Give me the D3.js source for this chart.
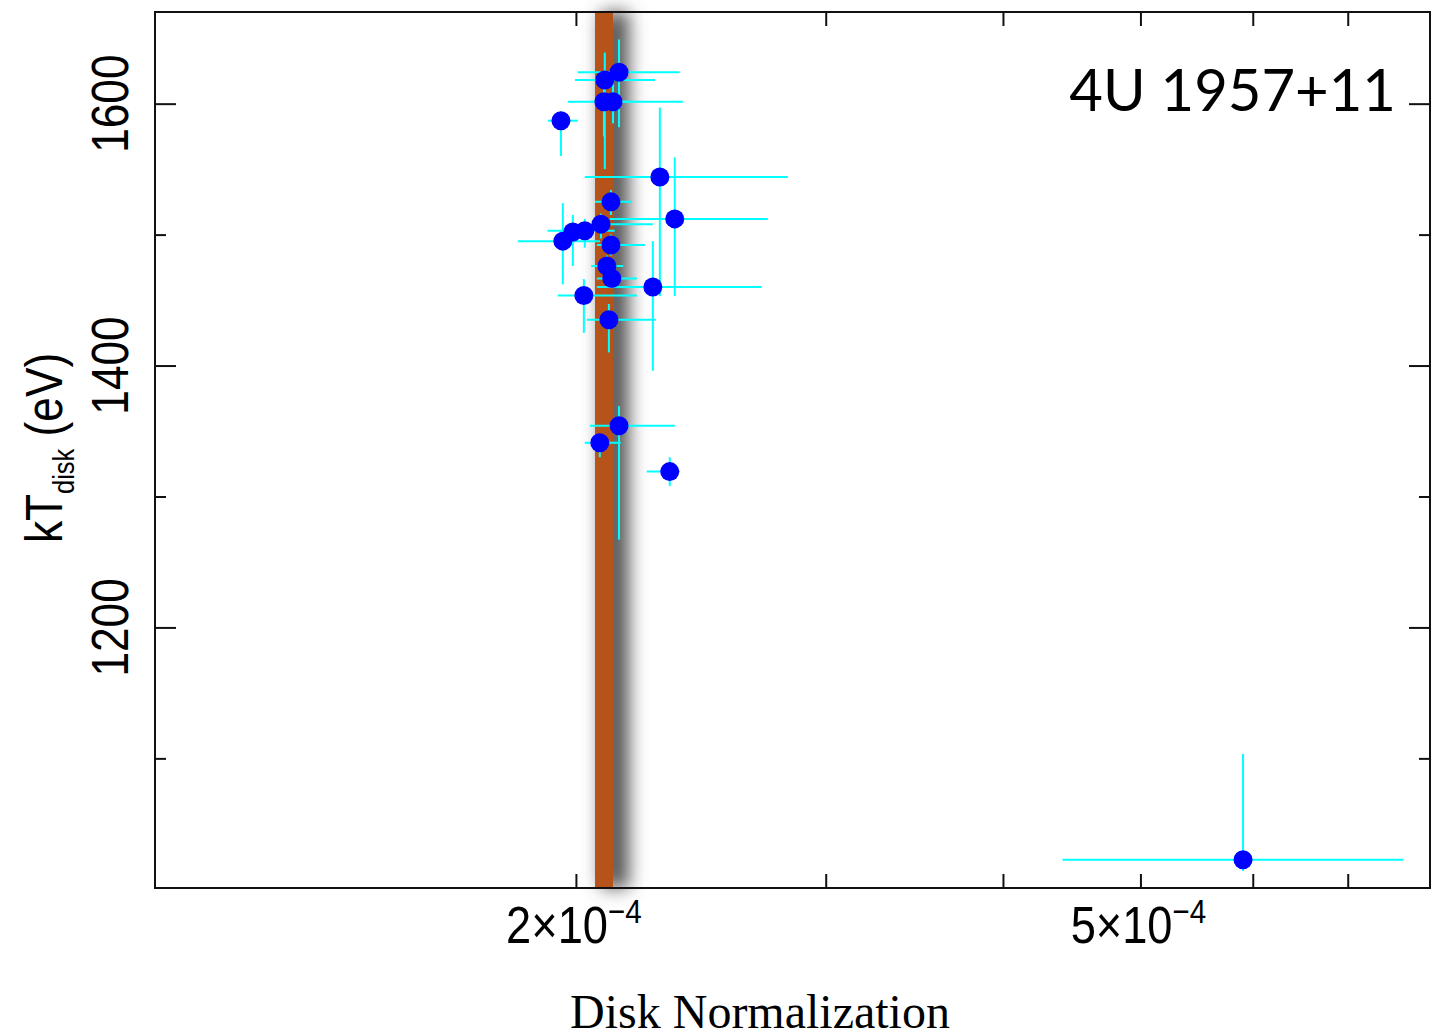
<!DOCTYPE html>
<html>
<head>
<meta charset="utf-8">
<script src="https://cdn.jsdelivr.net/npm/d3@7"></script>
<style>
  body { margin: 0; background: #fff; }
  svg { display: block; }
</style>
</head>
<body>
<div id="chart"></div>
<script>
// disk normalization (units of 1e-4) with low / high error ends
const normVal = [2.145, 2.096, 2.093, 2.124, 1.952, 2.292, 2.117, 2.348, 2.083, 2.029, 1.990, 1.958, 2.117, 2.103, 2.120, 2.266, 2.026, 2.110, 2.145, 2.079, 2.329, 5.906];
const normLo  = [2.006, 1.997, 1.974, 2.050, 1.911, 2.029, 2.063, 2.113, 2.063, 1.910, 1.950, 1.820, 2.069, 2.050, 2.069, 2.069, 1.942, 2.036, 2.046, 2.029, 2.244, 4.406];
const normHi  = [2.367, 2.274, 2.190, 2.379, 2.006, 2.821, 2.190, 2.731, 2.266, 2.130, 2.030, 2.080, 2.237, 2.160, 2.208, 2.704, 2.208, 2.277, 2.348, 2.151, 2.367, 7.660];
// disk temperature (eV) with low / high error ends
const ktVal = [1624, 1618, 1601.5, 1601.5, 1587, 1544, 1525, 1512, 1508, 1503, 1502, 1495, 1492, 1476, 1466.5, 1460, 1453.5, 1435, 1354, 1341, 1319, 1022.6];
const ktLo  = [1582, 1550, 1575, 1585, 1560, 1453, 1515, 1453, 1497, 1490, 1476, 1462, 1484, 1468, 1459, 1396, 1425, 1410, 1267, 1330, 1308, 1014];
const ktHi  = [1649, 1639, 1615, 1625, 1594, 1597, 1534, 1559, 1516, 1512, 1515, 1524, 1500, 1484, 1474, 1495, 1466, 1447, 1369, 1347.5, 1330, 1103.4];

// shaded band (units of 1e-4)
const bandLo = 2.063;
const bandHi = 2.124;

const xMajor = [2e-4, 5e-4];
const xMajorMant = ["2", "5"];
const xMinor = [3e-4, 4e-4, 6e-4, 7e-4];
const yMajor = [1200, 1400, 1600];
const yMinor = [1100, 1300, 1500];

const sourceName = "4U 1957+11";
const xTitle = "Disk Normalization";

const width = 1450, height = 1036;
const plotL = 155, plotR = 1430, plotT = 12, plotB = 888;

const x = d3.scaleLog().domain([1.01e-4, 8e-4]).range([plotL, plotR]);
const y = d3.scaleLinear().domain([1001, 1670]).range([plotB, plotT]);

const svg = d3.select("#chart").append("svg")
    .attr("width", width)
    .attr("height", height);

const defs = svg.append("defs");
defs.append("filter")
    .attr("id", "shade")
    .attr("x", "-200%").attr("width", "500%")
    .attr("y", "-5%").attr("height", "110%")
    .append("feGaussianBlur")
    .attr("stdDeviation", 9);

// band with drop shadow
svg.append("rect")
    .attr("x", x(bandLo * 1e-4) + 6)
    .attr("width", x(bandHi * 1e-4) - x(bandLo * 1e-4) + 10)
    .attr("y", plotT)
    .attr("height", plotB - plotT)
    .attr("fill", "#555")
    .attr("filter", "url(#shade)");

svg.append("rect")
    .attr("x", x(bandLo * 1e-4))
    .attr("width", x(bandHi * 1e-4) - x(bandLo * 1e-4))
    .attr("y", plotT)
    .attr("height", plotB - plotT)
    .attr("fill", "#b5531b");

const pts = normVal.map((v, i) => ({
    x: v * 1e-4, xl: normLo[i] * 1e-4, xh: normHi[i] * 1e-4,
    y: ktVal[i], yl: ktLo[i], yh: ktHi[i]
}));

// error bars
const eb = svg.append("g").attr("stroke", "#00ffff").attr("stroke-width", 2);
eb.selectAll("line.h").data(pts).join("line")
    .attr("class", "h")
    .attr("x1", d => x(d.xl)).attr("x2", d => x(d.xh))
    .attr("y1", d => y(d.y)).attr("y2", d => y(d.y));
eb.selectAll("line.v").data(pts).join("line")
    .attr("class", "v")
    .attr("x1", d => x(d.x)).attr("x2", d => x(d.x))
    .attr("y1", d => y(d.yl)).attr("y2", d => y(d.yh));

svg.append("g").selectAll("circle").data(pts).join("circle")
    .attr("cx", d => x(d.x))
    .attr("cy", d => y(d.y))
    .attr("r", 9.5)
    .attr("fill", "#0000ff");

// frame and ticks (all pointing inward)
svg.append("rect")
    .attr("x", plotL).attr("y", plotT)
    .attr("width", plotR - plotL).attr("height", plotB - plotT)
    .attr("fill", "none").attr("stroke", "#111").attr("stroke-width", 2);

function tickAxis(axis, transform) {
    const g = svg.append("g").attr("transform", transform).call(axis);
    g.select(".domain").remove();
    g.selectAll(".tick line").attr("stroke", "#111").attr("stroke-width", 2);
    g.selectAll(".tick text").remove();
    return g;
}
const allX = xMajor.concat(xMinor);
tickAxis(d3.axisBottom(x).tickValues(allX).tickSize(-14), `translate(0,${plotB})`);
tickAxis(d3.axisTop(x).tickValues(allX).tickSize(-14), `translate(0,${plotT})`);
tickAxis(d3.axisLeft(y).tickValues(yMajor).tickSize(-21), `translate(${plotL},0)`);
tickAxis(d3.axisLeft(y).tickValues(yMinor).tickSize(-11), `translate(${plotL},0)`);
tickAxis(d3.axisRight(y).tickValues(yMajor).tickSize(-21), `translate(${plotR},0)`);
tickAxis(d3.axisRight(y).tickValues(yMinor).tickSize(-11), `translate(${plotR},0)`);

const sans = "'Liberation Sans', Arial, Helvetica, sans-serif";

// x tick labels: m×10^-4
xMajor.forEach((v, i) => {
    const g = svg.append("g")
        .attr("transform", `translate(${x(v) - 2},943) scale(0.87,1)`);
    const t = g.append("text")
        .attr("text-anchor", "middle")
        .attr("font-family", sans)
        .attr("font-size", 52)
        .attr("fill", "#000");
    t.append("tspan").text(xMajorMant[i] + "\u00d710");
    t.append("tspan").attr("font-size", 34).attr("dy", -20).text("\u22124");
});

// y tick labels, rotated
yMajor.forEach(v => {
    svg.append("text")
        .attr("transform", `translate(128,${y(v)}) rotate(-90) scale(0.85,1)`)
        .attr("text-anchor", "middle")
        .attr("font-family", sans)
        .attr("font-size", 52)
        .attr("fill", "#000")
        .text(v);
});

// y title
const yt = svg.append("text")
    .attr("transform", `translate(62,448) rotate(-90) scale(0.85,1)`)
    .attr("text-anchor", "middle")
    .attr("font-family", sans)
    .attr("font-size", 52)
    .attr("fill", "#000");
yt.append("tspan").text("kT");
yt.append("tspan").attr("font-size", 30).attr("dy", 12).text("disk");
yt.append("tspan").attr("dy", -12).text("\u00a0(eV)");

// x title
svg.append("text")
    .attr("x", 760)
    .attr("y", 1028)
    .attr("text-anchor", "middle")
    .attr("font-family", "'Liberation Serif', 'Times New Roman', serif")
    .attr("font-size", 48)
    .attr("fill", "#000")
    .text(xTitle);

// source label
svg.append("text")
    .attr("x", 1396)
    .attr("y", 111)
    .attr("text-anchor", "end")
    .attr("font-family", "Lato, 'Open Sans', sans-serif")
    .attr("font-size", 58)
    .attr("fill", "#000")
    .text(sourceName);
</script>
</body>
</html>
